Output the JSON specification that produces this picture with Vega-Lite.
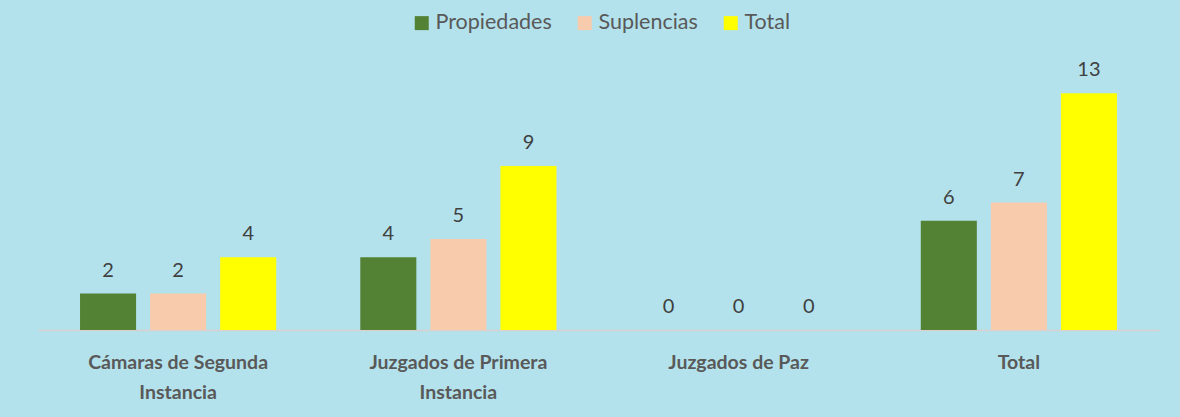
{
  "$schema": "https://vega.github.io/schema/vega-lite/v6.json",
  "width": 1121,
  "height": 255,
  "autosize": {"type": "none"},
  "padding": {"left": 38, "top": 75, "right": 21, "bottom": 87},
  "background": "#b3e2ec",
  "config": {"view": {"stroke": null}, "font": "Lato"},
  "data": {
    "values": [
      {"grupo": "Cámaras de Segunda Instancia", "serie": "Propiedades", "valor": 2},
      {"grupo": "Cámaras de Segunda Instancia", "serie": "Suplencias", "valor": 2},
      {"grupo": "Cámaras de Segunda Instancia", "serie": "Total", "valor": 4},
      {"grupo": "Juzgados de Primera Instancia", "serie": "Propiedades", "valor": 4},
      {"grupo": "Juzgados de Primera Instancia", "serie": "Suplencias", "valor": 5},
      {"grupo": "Juzgados de Primera Instancia", "serie": "Total", "valor": 9},
      {"grupo": "Juzgados de Paz", "serie": "Propiedades", "valor": 0},
      {"grupo": "Juzgados de Paz", "serie": "Suplencias", "valor": 0},
      {"grupo": "Juzgados de Paz", "serie": "Total", "valor": 0},
      {"grupo": "Total", "serie": "Propiedades", "valor": 6},
      {"grupo": "Total", "serie": "Suplencias", "valor": 7},
      {"grupo": "Total", "serie": "Total", "valor": 13}
    ]
  },
  "encoding": {
    "x": {
      "field": "grupo",
      "type": "nominal",
      "sort": ["Cámaras de Segunda Instancia", "Juzgados de Primera Instancia", "Juzgados de Paz", "Total"],
      "scale": {"paddingInner": 0, "paddingOuter": 0},
      "axis": {
        "title": null,
        "labelAngle": 0,
        "labelFont": "Lato",
        "labelFontWeight": "bold",
        "labelFontSize": 19.5,
        "labelColor": "#595959",
        "labelPadding": 23,
        "labelLineHeight": 30,
        "labelBaseline": "top",
        "labelExpr": "datum.label == 'Cámaras de Segunda Instancia' ? ['Cámaras de Segunda', 'Instancia'] : datum.label == 'Juzgados de Primera Instancia' ? ['Juzgados de Primera', 'Instancia'] : datum.label",
        "ticks": false,
        "domainColor": "#d9d0d0",
        "domainWidth": 1.5,
        "grid": false
      }
    },
    "xOffset": {
      "field": "serie",
      "sort": ["Propiedades", "Suplencias", "Total"],
      "scale": {"paddingInner": 0.2, "paddingOuter": 0.6}
    },
    "y": {
      "field": "valor",
      "type": "quantitative",
      "scale": {"domain": [0, 14]},
      "axis": null
    }
  },
  "layer": [
    {
      "mark": {"type": "bar"},
      "encoding": {
        "color": {
          "field": "serie",
          "type": "nominal",
          "sort": ["Propiedades", "Suplencias", "Total"],
          "scale": {"domain": ["Propiedades", "Suplencias", "Total"], "range": ["#548235", "#f8cbad", "#ffff00"]},
          "legend": {
            "title": null,
            "orient": "none",
            "direction": "horizontal",
            "legendX": 373,
            "legendY": -63,
            "symbolType": "square",
            "symbolSize": 196,
            "symbolStrokeWidth": 0,
            "symbolOpacity": 1,
            "labelFont": "Lato",
            "labelFontSize": 21.5,
            "labelColor": "#595959",
            "labelOffset": 3,
            "columnPadding": 22
          }
        }
      }
    },
    {
      "mark": {"type": "text", "dy": -17, "baseline": "alphabetic", "font": "Lato", "fontSize": 20, "color": "#404040"},
      "encoding": {"text": {"field": "valor", "type": "quantitative"}}
    }
  ]
}
